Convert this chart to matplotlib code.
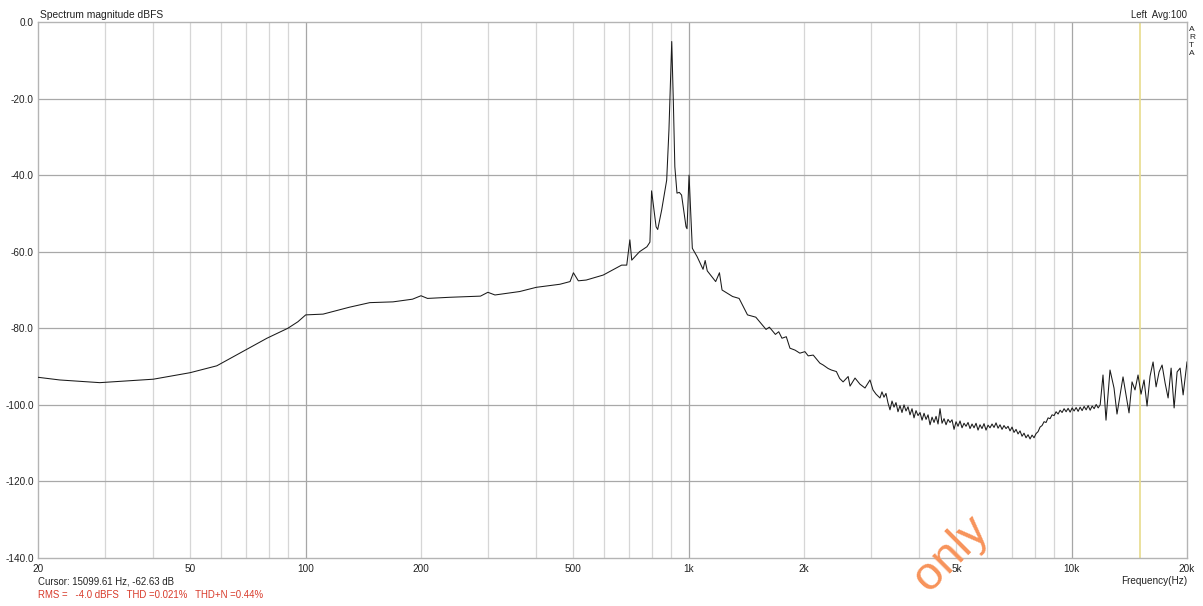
import numpy as np
import matplotlib
matplotlib.use("Agg")
import matplotlib.pyplot as plt

plt.rcParams['font.family'] = ['Liberation Sans', 'DejaVu Sans']

# spectrum trace: frequency (Hz) and level (dBFS)
freq_hz = [
    20, 22.8, 29.0, 40.0, 49.9, 58.6, 70.2, 79.2, 89.8, 95.4,
    100, 111, 130, 147, 169, 190, 200, 208, 238, 286,
    299, 312, 362, 400, 461, 490, 500, 515, 540, 598,
    668, 689, 702, 710, 744, 778, 792, 800, 822, 830,
    850, 876, 888, 903, 912, 920, 932, 945, 958, 984,
    990, 1002, 1022, 1052, 1090, 1104, 1118, 1176, 1203, 1222,
    1302, 1354, 1424, 1497, 1592, 1624, 1684, 1718, 1752, 1798,
    1838, 1895, 1951, 2011, 2051, 2114, 2200, 2245, 2312, 2358,
    2430, 2478, 2530, 2608,
    2638, 2718, 2800, 2886, 2974, 3028, 3084,
    # noise floor
    3158, 3196, 3235, 3274, 3314, 3354, 3395, 3436, 3477, 3519,
    3562, 3605, 3649, 3693, 3738, 3783, 3829, 3875, 3922, 3970,
    4018, 4067, 4116, 4166, 4216, 4267, 4319, 4371, 4424, 4477,
    4531, 4586, 4642, 4698, 4755, 4812, 4870, 4929, 4989, 5049,
    5110, 5172, 5234, 5298, 5362, 5427, 5492, 5559, 5626, 5694,
    5762, 5832, 5903, 5974, 6047, 6120, 6194, 6269, 6345, 6422,
    6499, 6578, 6657, 6738, 6820, 6902, 6986, 7070, 7156, 7242,
    7330, 7419, 7508, 7599, 7691, 7785, 7879, 7974, 8071, 8169,
    8268, 8368, 8469, 8572, 8676, 8781, 8887, 8995, 9104, 9214,
    9326, 9439, 9553, 9669, 9786, 9905, 10025, 10146, 10269, 10394,
    10520, 10647, 10776, 10907, 11039, 11173, 11308, 11445, 11584, 11724,
    11866,
    # top octave
    12070, 12290, 12590, 12896, 13130, 13614, 13862, 14114, 14372, 14632,
    14900, 15172, 15448, 15730, 16016, 16310, 16608, 16910, 17218, 17534,
    17852, 18178, 18510, 18846, 19190, 19540, 20000,
]
level_db = [
    -92.8, -93.5, -94.2, -93.3, -91.6, -89.8, -85.5, -82.6, -80.0, -78.3,
    -76.5, -76.3, -74.5, -73.3, -73.1, -72.4, -71.5, -72.2, -71.9, -71.6,
    -70.6, -71.3, -70.4, -69.3, -68.5, -67.8, -65.5, -67.6, -67.4, -66.1,
    -63.5, -63.5, -56.9, -62.2, -60.0, -58.7, -57.5, -44.1, -53.5, -54.2,
    -49.1, -41.3, -28.2, -5.1, -21.2, -37.8, -44.7, -44.5, -45.2, -53.5,
    -54.0, -40.0, -59.1, -61.3, -64.6, -62.3, -65.0, -67.8, -65.5, -70.0,
    -71.7, -72.2, -76.5, -77.1, -80.3, -79.7, -81.6, -80.9, -82.6, -82.2,
    -85.2, -85.7, -86.5, -86.1, -87.2, -87.0, -89.1, -89.6, -90.5, -90.9,
    -91.3, -93.1, -94.0, -92.6,
    -95.1, -93.0, -94.6, -95.6, -93.5, -96.1, -97.2,
    # noise floor
    -98.2, -96.6, -98.0, -97.0, -99.5, -101.3, -99.0, -100.6, -99.4, -101.8,
    -100.2, -102.0, -100.0, -101.6, -100.5, -102.6, -101.0, -103.4, -101.5, -102.8,
    -102.0, -104.0, -102.2, -103.8, -102.6, -105.2, -103.2, -104.6, -103.0, -105.0,
    -101.0, -104.8, -103.6, -105.2, -103.8, -104.6, -103.9, -106.4, -104.4, -105.6,
    -104.2, -106.0, -104.8, -105.6, -104.6, -106.2, -105.0, -106.0, -104.8, -106.6,
    -105.2, -106.2, -104.9, -106.6, -105.3, -106.0, -105.0, -105.9, -104.7, -106.1,
    -105.2, -106.4, -105.4, -106.2, -105.6, -106.8, -105.8, -107.2, -106.4, -107.6,
    -106.8, -108.2, -107.4, -108.6, -107.8, -108.9, -107.9, -108.6, -107.5, -107.0,
    -105.8, -105.4, -104.4, -104.6, -103.4, -103.6, -102.6, -102.8, -101.8, -102.4,
    -101.4, -102.0, -101.0, -101.8, -100.9, -101.9, -100.8, -101.6, -100.7, -101.7,
    -100.6, -101.5, -100.4, -101.3, -100.2, -101.4, -100.3, -101.0, -99.9, -100.8,
    -100.0,
    # top octave
    -92.2, -104.0, -90.9, -95.6, -102.4, -92.7, -97.4, -102.1, -94.0, -96.1,
    -92.2, -97.2, -93.5, -100.3, -92.5, -88.8, -95.3, -91.4, -89.6, -94.3,
    -98.2, -90.4, -100.8, -91.4, -90.4, -97.4, -88.8,
]

x_ticks = [20, 50, 100, 200, 500, 1000, 2000, 5000, 10000, 20000]
x_labels = ['20', '50', '100', '200', '500', '1k', '2k', '5k', '10k', '20k']
y_ticks = [0, -20, -40, -60, -80, -100, -120, -140]
cursor_hz = 15099.61

W, H = 1203, 606
fig = plt.figure(figsize=(W / 100, H / 100), dpi=100)
ax = fig.add_axes([38 / W, 1 - 558 / H, (1187 - 38) / W, (558 - 22) / H])

ax.set_xscale('log')
ax.set_xlim(20, 20000)
ax.set_ylim(-140, 0)

# vertical grid: decade lines darker than the in-between lines
for dec in [10, 100, 1000, 10000]:
    for m in range(1, 10):
        f = dec * m
        if f <= 20 or f >= 20000:
            continue
        col = '#a6a6a6' if m == 1 else '#d6d6d6'
        ax.axvline(f, color=col, lw=0.9, zorder=1)
for v in y_ticks[1:-1]:
    ax.axhline(v, color='#a8a8a8', lw=0.9, zorder=1)

# cursor marker
ax.axvline(cursor_hz, color='#e8dc8c', lw=1.2, zorder=2)

ax.plot(freq_hz, level_db, color='#1a1a1a', lw=0.75, zorder=3)

ax.set_xticks(x_ticks)
ax.set_xticklabels(x_labels)
ax.set_xticks([], minor=True)
ax.set_yticks(y_ticks)
ax.set_yticklabels([f'{v:.1f}' for v in y_ticks])
ax.tick_params(axis='both', length=0, labelsize=7.2, colors='#222222')
ax.tick_params(axis='x', pad=4)
ax.tick_params(axis='y', pad=3)
for s in ax.spines.values():
    s.set_color('#b4b4b4')
    s.set_linewidth(1.0)

fig.text(40 / W, 1 - 15 / H, 'Spectrum magnitude dBFS', fontsize=7.4,
         ha='left', va='center', color='#222222')
fig.text(1187 / W, 1 - 15 / H, 'Left  Avg:100', fontsize=6.9,
         ha='right', va='center', color='#222222')
for i, ch in enumerate('ARTA'):
    fig.text(1189 / W, 1 - (29.5 + 8.0 * i) / H, ch, fontsize=6.0,
             ha='left', va='center', color='#222222')
fig.text(1187 / W, 1 - 581 / H, 'Frequency(Hz)', fontsize=7.2,
         ha='right', va='center', color='#222222')
fig.text(38 / W, 1 - 581 / H, 'Cursor: 15099.61 Hz, -62.63 dB', fontsize=6.95,
         ha='left', va='center', color='#222222')
fig.text(38 / W, 1 - 595 / H, 'RMS =   -4.0 dBFS   THD =0.021%   THD+N =0.44%',
         fontsize=6.9, ha='left', va='center', color='#d83a2a')

# watermark
fig.text(990 / W, 1 - 532 / H, 'only', fontsize=34, rotation=45,
         rotation_mode='anchor', ha='right', va='baseline',
         color='#f7935a', zorder=10)

fig.savefig('out.png', dpi=100)
